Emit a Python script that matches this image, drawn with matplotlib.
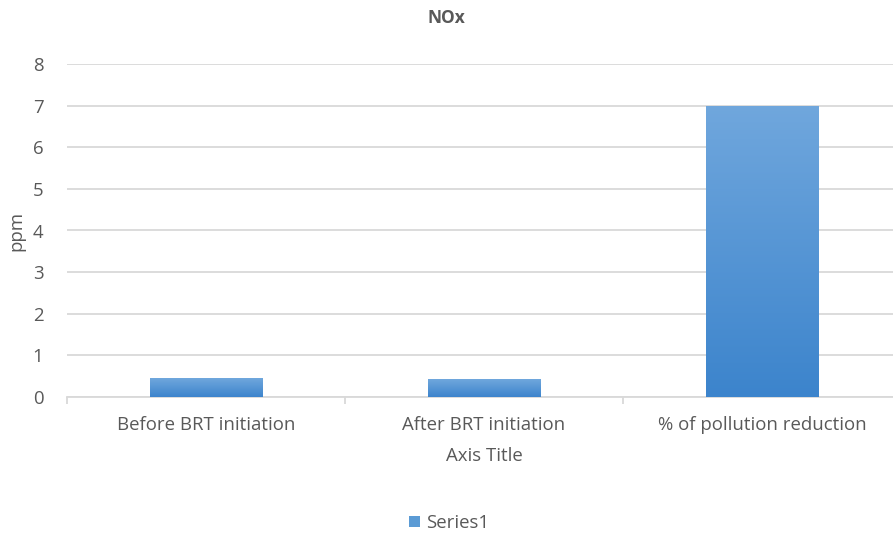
import numpy as np
import matplotlib.pyplot as plt
from matplotlib.patches import Patch
from matplotlib.colors import LinearSegmentedColormap

categories = ['Before BRT initiation', 'After BRT initiation', '% of pollution reduction']
values = [0.45, 0.43, 7.0]
yticks = [0, 1, 2, 3, 4, 5, 6, 7, 8]

plt.rcParams['font.family'] = ['Open Sans', 'DejaVu Sans']
text_col = '#595959'
grid_col = '#d9d9d9'
fs = 13.4

fig = plt.figure(figsize=(8.93, 5.38), dpi=100)
# plot area runs a little past the right edge of the picture, like the original
ax = fig.add_axes([67 / 893, 1 - 397 / 538, (901 - 67) / 893, (397 - 64) / 538])

x = np.arange(len(categories))
width = 0.405
bars = ax.bar(x, values, width=width, color='none', edgecolor='none', zorder=3)

# vertical gradient inside each bar, light on top and darker at the bottom
grad = np.linspace(0, 1, 256).reshape(-1, 1)
cmap = LinearSegmentedColormap.from_list('bar', ['#3c84cc', '#70a7dd'])
for b in bars:
    x0, y0 = b.get_x(), b.get_y()
    w, h = b.get_width(), b.get_height()
    im = ax.imshow(grad, cmap=cmap, aspect='auto', origin='lower',
                   extent=[x0, x0 + w, y0, y0 + h], zorder=3)
    im.set_clip_path(b)

ax.set_xlim(-0.5, len(categories) - 0.5)
ax.set_ylim(0, 8)
ax.set_yticks(yticks)
ax.yaxis.grid(True, color=grid_col, linewidth=1.3, zorder=0)
ax.set_axisbelow(True)

for s in ['top', 'right', 'left']:
    ax.spines[s].set_visible(False)
ax.spines['bottom'].set_color(grid_col)
ax.spines['bottom'].set_linewidth(1.3)

ax.set_xticks(x)
ax.set_xticklabels(categories, fontsize=fs, color=text_col)
ax.tick_params(axis='x', length=0, pad=14)
ax.set_xticks(np.arange(len(categories) + 1) - 0.5, minor=True)
ax.tick_params(axis='x', which='minor', length=5, width=1.3, color=grid_col)
ax.tick_params(axis='y', length=0, pad=17, labelsize=fs, labelcolor=text_col)

fig.text(0.5, 1 - 18 / 538, 'NOx', ha='center', va='center', fontsize=12.5,
         fontweight='bold', color=text_col)
ax.set_xlabel('Axis Title', fontsize=fs, color=text_col, labelpad=9)
ax.set_ylabel('ppm', fontsize=fs, color=text_col, labelpad=5)

handle = Patch(facecolor='#5b9bd5', edgecolor='none')
fig.legend([handle], ['Series1'], loc='center', bbox_to_anchor=(0.503, 1 - 523 / 538),
           frameon=False, fontsize=fs, labelcolor=text_col,
           handlelength=0.6, handleheight=0.6, handletextpad=0.35)

plt.savefig('out.png', dpi=100)
